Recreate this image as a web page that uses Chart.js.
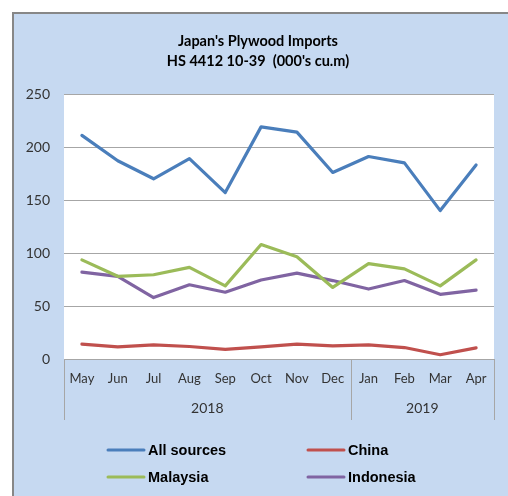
<!DOCTYPE html>
<html>
<head>
<meta charset="utf-8">
<script src="https://cdn.jsdelivr.net/npm/chart.js@4/dist/chart.umd.min.js"></script>
<style>
  html, body { margin:0; padding:0; background:#fff; }
  #wrap { position:absolute; left:0; top:0; width:508px; height:496px; }
</style>
</head>
<body>
<div id="wrap"><canvas id="plywood-chart" width="508" height="496"></canvas></div>
<script>
// months May 2018 - Apr 2019
var months = ['May','Jun','Jul','Aug','Sep','Oct','Nov','Dec','Jan','Feb','Mar','Apr'];
var years = [{label:'2018', from:0, to:7}, {label:'2019', from:8, to:11}];
var yTicks = [0, 50, 100, 150, 200, 250];

var allSources = [211, 187, 170, 189, 157, 219, 214, 176, 191, 185, 140, 183];
var china      = [14, 11.5, 13.3, 11.8, 9, 11.5, 14, 12.3, 13.3, 10.8, 4, 10.5];
var malaysia   = [93.5, 78, 79.5, 86.5, 69, 108, 96.5, 67.5, 90, 85, 69, 93.5];
var indonesia  = [82, 78, 58, 70, 63, 74.5, 81, 74, 66, 74, 61, 65];

var BG = '#c6d9f1';
var GRID = '#a6a6a6';

// background, title, year groups and legend
var excelLook = {
    id:'excelLook',
    beforeDraw:function(chart){
        var c = chart.ctx, a = chart.chartArea;
        c.save();
        c.fillStyle = '#fff';
        c.fillRect(0, 0, chart.width, chart.height);
        c.fillStyle = BG;
        c.fillRect(13, 13, chart.width - 13, chart.height - 13);
        c.fillStyle = '#878787';
        c.fillRect(12, 12, chart.width - 12, 2);
        c.fillRect(12, 12, 2, chart.height - 12);
        c.fillStyle = '#fff';
        c.fillRect(a.left, a.top, a.right - a.left, a.bottom - a.top);
        c.restore();
    },
    afterDraw:function(chart){
        var c = chart.ctx, a = chart.chartArea, x = chart.scales.x;
        c.save();
        // title
        c.fillStyle = '#000';
        c.textAlign = 'center';
        c.textBaseline = 'middle';
        c.font = 'bold 14.5px Lato, "Liberation Sans", sans-serif';
        c.fillText("Japan's Plywood Imports", 258, 41);
        c.fillText("HS 4412 10-39  (000's cu.m)", 258, 61);

        // category group separators
        var step = (a.right - a.left) / months.length;
        c.strokeStyle = GRID;
        c.lineWidth = 1;
        var edges = [a.left];
        years.forEach(function(g){ edges.push(x.getPixelForValue(g.to) + step / 2); });
        c.beginPath();
        edges.forEach(function(px){
            px = Math.round(px) + 0.5;
            c.moveTo(px, a.bottom);
            c.lineTo(px, 420);
        });
        c.stroke();

        // year labels
        c.fillStyle = '#333';
        c.font = '14px Lato, "Liberation Sans", sans-serif';
        years.forEach(function(g){
            var l = x.getPixelForValue(g.from) - step / 2;
            var r = x.getPixelForValue(g.to) + step / 2;
            c.fillText(g.label, (l + r) / 2, 408);
        });

        // legend (2 x 2)
        var slots = [[108, 450], [308, 450], [108, 477], [308, 477]];
        c.font = 'bold 14.5px "Liberation Sans", Arial, sans-serif';
        c.textAlign = 'left';
        chart.data.datasets.forEach(function(ds, i){
            var s = slots[i];
            c.strokeStyle = ds.borderColor;
            c.lineWidth = 3;
            c.lineCap = 'round';
            c.beginPath();
            c.moveTo(s[0], s[1]);
            c.lineTo(s[0] + 36, s[1]);
            c.stroke();
            c.fillStyle = '#000';
            c.fillText(ds.label, s[0] + 40, s[1] + 1);
        });
        c.restore();
    }
};

new Chart(document.getElementById('plywood-chart').getContext('2d'), {
    type:'line',
    data:{
        labels: months,
        datasets:[
            {label:'All sources', data: allSources, borderColor:'#4a7ebb'},
            {label:'China',       data: china,      borderColor:'#c0504d'},
            {label:'Malaysia',    data: malaysia,   borderColor:'#9bbb59'},
            {label:'Indonesia',   data: indonesia,  borderColor:'#8064a2'}
        ]
    },
    options:{
        responsive:false,
        animation:false,
        devicePixelRatio:1,
        elements:{
            line:{borderWidth:3.2, tension:0, borderCapStyle:'round', borderJoinStyle:'round'},
            point:{radius:0}
        },
        layout:{padding:{left:0, top:94, right:14, bottom:0}},
        plugins:{legend:{display:false}, title:{display:false}, tooltip:{enabled:false}},
        scales:{
            x:{
                offset:true,
                grid:{display:false, drawTicks:false},
                border:{display:true, color:GRID, width:1},
                ticks:{color:'#333', padding:12, maxRotation:0, autoSkip:false,
                       font:{family:'Lato, "Liberation Sans", sans-serif', size:13}},
                afterFit:function(s){ s.height = 137; }
            },
            y:{
                min:0, max:250,
                afterBuildTicks:function(s){ s.ticks = yTicks.map(function(v){ return {value:v}; }); },
                grid:{color:GRID, drawTicks:false},
                border:{display:false},
                ticks:{color:'#333', padding:14,
                       font:{family:'Lato, "Liberation Sans", sans-serif', size:14}},
                afterFit:function(s){ s.width = 64; }
            }
        }
    },
    plugins:[excelLook]
});
</script>
</body>
</html>
